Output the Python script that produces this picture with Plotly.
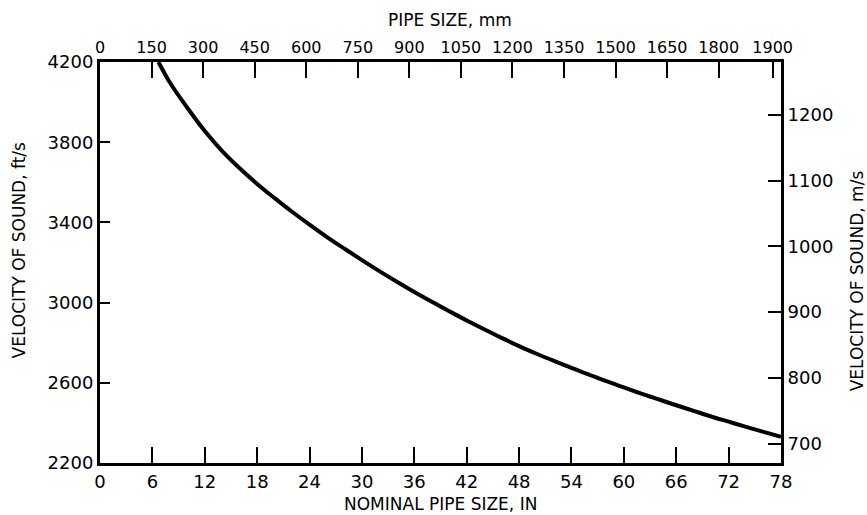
import plotly.graph_objects as go

# Curve: nominal pipe size (in) vs velocity of sound (ft/s)
pipe_in = [6.7, 8, 10, 12, 14, 16, 18, 20, 22, 24, 26, 28, 30, 32, 34, 36, 38, 40,
           42, 44, 46, 48, 50, 52, 54, 56, 58, 60, 62, 64, 66, 68, 70, 72, 74, 76, 78]
vel_fts = [4200, 4098, 3972, 3856, 3756, 3670, 3592, 3521, 3453, 3389, 3327, 3269,
           3212, 3157, 3104, 3053, 3004, 2957, 2911, 2867, 2824, 2783, 2745, 2709,
           2674, 2641, 2608, 2577, 2546, 2517, 2488, 2460, 2432, 2406, 2380, 2355, 2331]

# Axis ticks
in_ticks = list(range(0, 79, 6))
fts_ticks = [2200, 2600, 3000, 3400, 3800, 4200]
ms_ticks = [700, 800, 900, 1000, 1100, 1200]
mm_labels = ["0", "150", "300", "450", "600", "750", "900", "1050", "1200",
             "1350", "1500", "1650", "1800", "1900"]
mm_positions = [0, 150, 300, 450, 600, 750, 900, 1050, 1200, 1350, 1500, 1650, 1800, 1957]

IN_RANGE = [0, 78]
FTS_RANGE = [2200, 4200]
MM_PER_IN = 25.4
FT_PER_M = 3.2808

FONT = "DejaVu Sans"
TICK_SIZE = 18
TITLE_SIZE = 17

fig = go.Figure()
fig.add_trace(go.Scatter(x=pipe_in, y=vel_fts, mode="lines",
                         line=dict(color="black", width=4, shape="spline"),
                         showlegend=False, hoverinfo="skip"))
# empty trace to activate the secondary (top / right) axes
fig.add_trace(go.Scatter(x=[None], y=[None], xaxis="x2", yaxis="y2",
                         showlegend=False, hoverinfo="skip"))

axis_common = dict(showgrid=False, zeroline=False, showline=True, linecolor="black",
                   linewidth=3, ticks="inside", tickcolor="black", tickwidth=2)

def tfont(size):
    return dict(family=FONT, size=size, color="black")

title_font = tfont(TITLE_SIZE)

fig.update_layout(
    width=867, height=515,
    margin=dict(l=100, r=86, t=62, b=52),
    paper_bgcolor="white", plot_bgcolor="white",
    font=dict(family=FONT, color="black"),
    xaxis=dict(range=IN_RANGE, tickvals=in_ticks, ticklen=16,
               tickfont=tfont(TICK_SIZE), **axis_common),
    xaxis2=dict(range=[IN_RANGE[0] * MM_PER_IN, IN_RANGE[1] * MM_PER_IN], overlaying="x",
                side="top", tickvals=mm_positions, ticktext=mm_labels, ticklen=16,
                tickfont=tfont(16), **axis_common),
    yaxis=dict(range=FTS_RANGE, tickvals=fts_ticks, ticklen=10,
               tickfont=tfont(TICK_SIZE), **axis_common),
    yaxis2=dict(range=[FTS_RANGE[0] / FT_PER_M, FTS_RANGE[1] / FT_PER_M], overlaying="y",
                side="right", tickvals=ms_ticks, ticklen=13,
                tickfont=tfont(TICK_SIZE), **axis_common),
    annotations=[
        dict(text="NOMINAL PIPE SIZE, IN", xref="paper", yref="paper", x=0.5, y=0,
             yshift=-41, xanchor="center", yanchor="middle", showarrow=False, font=title_font),
        dict(text="PIPE SIZE, mm", xref="paper", yref="paper", x=0.514, y=1,
             yshift=42, xanchor="center", yanchor="middle", showarrow=False, font=title_font),
        dict(text="VELOCITY OF SOUND, ft/s", xref="paper", yref="paper", x=0, y=0.53,
             xshift=-81, xanchor="center", yanchor="middle", textangle=-90,
             showarrow=False, font=title_font),
        dict(text="VELOCITY OF SOUND, m/s", xref="paper", yref="paper", x=1, y=0.453,
             xshift=76, xanchor="center", yanchor="middle", textangle=-90,
             showarrow=False, font=title_font),
    ],
)

fig.write_html("out.html")
